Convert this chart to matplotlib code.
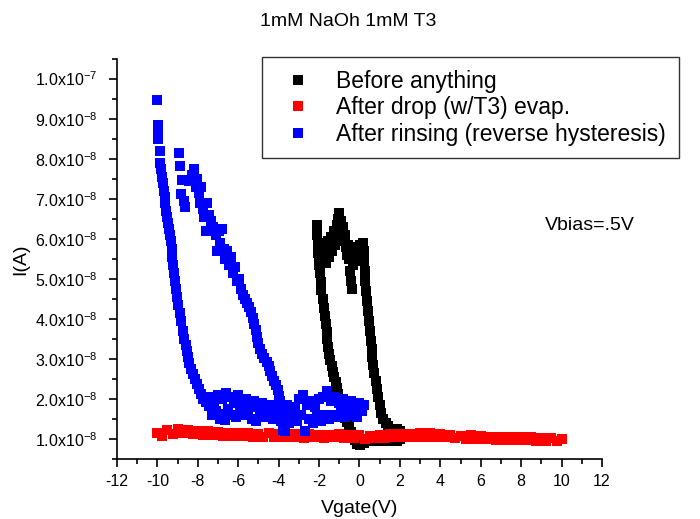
import numpy as np
import matplotlib
matplotlib.use("Agg")
import matplotlib.pyplot as plt
from matplotlib.ticker import MultipleLocator, FuncFormatter
from matplotlib.lines import Line2D

plt.rcParams['font.family'] = ['Liberation Sans', 'DejaVu Sans']
plt.rcParams['mathtext.fontset'] = 'custom'
plt.rcParams['mathtext.rm'] = 'Liberation Sans'
plt.rcParams['mathtext.it'] = 'Liberation Sans'
plt.rcParams['axes.unicode_minus'] = False

SCALE = 1e-8

title = "1mM NaOh 1mM T3"
series_labels = ["Before anything", "After drop (w/T3) evap.", "After rinsing (reverse hysteresis)"]
x_label = "Vgate(V)"
y_label = "I(A)"
note = "Vbias=.5V"

# ---- Black: Before anything  (Vgate, current in 1e-8 A) ----
black_up = [(-2.1, 6.35), (-2.08, 6.1), (-2.05, 5.85), (-2.02, 5.6), (-2.0, 5.35), (-1.95, 5.15),
            (-1.9, 5.45), (-1.85, 5.7), (-1.8, 5.5), (-1.75, 5.85), (-1.7, 5.6), (-1.65, 5.4),
            (-1.6, 5.75), (-1.55, 5.95), (-1.5, 5.55), (-1.45, 5.8), (-1.4, 6.05), (-1.35, 5.7),
            (-1.3, 5.95), (-1.25, 6.2), (-1.2, 5.85), (-1.15, 6.1), (-1.1, 6.35), (-1.05, 6.5),
            (-1.0, 6.65), (-0.95, 6.3), (-0.9, 6.45), (-0.85, 6.15), (-0.8, 6.3), (-0.75, 5.95),
            (-0.7, 6.1), (-0.65, 5.8), (-0.6, 5.6), (-0.55, 5.85), (-0.5, 5.5), (-0.45, 5.2),
            (-0.42, 4.95), (-0.38, 4.75), (-0.3, 5.35), (-0.25, 5.6), (-0.2, 5.45), (-0.15, 5.7),
            (-0.1, 5.55), (-0.05, 5.8), (0.0, 5.6), (0.05, 5.85), (0.1, 5.65), (0.15, 5.9),
            (0.2, 5.7), (0.22, 5.45), (0.25, 5.2), (0.28, 4.95), (0.32, 4.7), (0.36, 4.45),
            (0.42, 4.2), (0.48, 3.95), (0.52, 3.7), (0.55, 3.45), (0.6, 3.25), (0.64, 3.05),
            (0.68, 2.85), (0.73, 2.65), (0.8, 2.45), (0.86, 2.25), (0.93, 2.05), (1.0, 1.85),
            (1.08, 1.65), (1.18, 1.5), (1.3, 1.4), (1.42, 1.32), (1.55, 1.25), (1.7, 1.22),
            (1.85, 1.25), (2.0, 1.2)]
black_down = [(2.0, 1.0), (1.85, 0.95), (1.7, 1.0), (1.55, 0.95), (1.4, 1.0), (1.25, 0.95),
              (1.1, 1.0), (0.95, 0.95), (0.8, 1.0), (0.65, 0.95), (0.5, 1.0), (0.35, 0.95),
              (0.2, 0.9), (0.05, 0.85), (-0.1, 0.88), (-0.2, 0.98), (-0.3, 1.08), (-0.4, 1.18),
              (-0.5, 1.3), (-0.6, 1.42), (-0.7, 1.52), (-0.8, 1.65), (-0.9, 1.82), (-0.98, 1.98),
              (-1.05, 2.12), (-1.12, 2.28), (-1.18, 2.42), (-1.25, 2.55), (-1.32, 2.68),
              (-1.38, 2.82), (-1.44, 2.98), (-1.5, 3.12), (-1.56, 3.3), (-1.6, 3.5), (-1.63, 3.68),
              (-1.68, 3.88), (-1.73, 4.08), (-1.78, 4.28), (-1.83, 4.5), (-1.88, 4.72),
              (-1.92, 4.92), (-1.96, 5.15), (-2.0, 5.4), (-2.04, 5.65), (-2.07, 5.9), (-2.1, 6.15)]

# ---- Red: After drop (w/T3) evap. ----
red_fwd_v = [-10.0, -9.5, -9.0, -8.5, -8.0, -7.5, -7.0, -6.5, -6.0, -5.5, -5.0, -4.5, -4.0, -3.5,
             -3.0, -2.5, -2.0, -1.5, -1.0, -0.5, 0.0, 0.5, 1.0, 1.5, 2.0, 2.5, 3.0, 3.5, 4.0, 4.5,
             5.0, 5.5, 6.0, 6.5, 7.0, 7.5, 8.0, 8.5, 9.0, 9.5, 10.0]
red_fwd_i = [1.14, 1.22, 1.26, 1.22, 1.2, 1.21, 1.17, 1.16, 1.15, 1.15, 1.13, 1.14, 1.12, 1.13,
             1.12, 1.12, 1.1, 1.11, 1.12, 1.1, 1.1, 1.08, 1.1, 1.12, 1.13, 1.12, 1.15, 1.14, 1.12,
             1.1, 1.08, 1.09, 1.08, 1.06, 1.05, 1.06, 1.05, 1.04, 1.03, 1.02, 1.0]
red_rev_v = [9.75, 9.25, 8.75, 8.25, 7.75, 7.25, 6.75, 6.25, 5.75, 5.25, 4.75, 4.25, 3.75, 3.25,
             2.75, 2.25, 1.75, 1.25, 0.75, 0.25, -0.25, -0.75, -1.25, -1.75, -2.25, -2.75, -3.25,
             -3.75, -4.25, -4.75, -5.25, -5.75, -6.25, -6.75, -7.25, -7.75, -8.25, -8.75, -9.25,
             -9.75]
red_rev_i = [0.95, 0.96, 0.96, 0.97, 0.97, 0.98, 0.98, 0.99, 1.01, 1.01, 1.02, 1.04, 1.05, 1.06,
             1.04, 1.05, 1.04, 1.02, 1.03, 1.01, 1.02, 1.03, 1.04, 1.03, 1.04, 1.03, 1.05,
             1.04, 1.06, 1.05, 1.06, 1.07, 1.07, 1.08, 1.09, 1.1, 1.12, 1.14, 1.13, 1.08]

# ---- Blue: After rinsing (reverse hysteresis) ----
blue_steep = [(-10.01, 9.47), (-9.98, 8.85), (-9.97, 8.65), (-9.96, 8.5), (-9.88, 8.2), (-9.86, 7.9),
              (-9.84, 7.75), (-9.76, 7.55), (-9.72, 7.4), (-9.68, 7.2), (-9.64, 7.05), (-9.6, 6.9),
              (-9.56, 6.7), (-9.52, 6.55), (-9.47, 6.4), (-9.43, 6.25), (-9.38, 6.1), (-9.33, 5.95),
              (-9.3, 5.75), (-9.27, 5.55), (-9.24, 5.35), (-9.2, 5.15), (-9.15, 4.95), (-9.1, 4.75),
              (-9.04, 4.55), (-8.97, 4.35), (-8.9, 4.15), (-8.82, 3.95), (-8.72, 3.7), (-8.66, 3.5),
              (-8.6, 3.35), (-8.55, 3.2), (-8.48, 3.05), (-8.42, 2.9), (-8.35, 2.75), (-8.26, 2.62),
              (-8.15, 2.5), (-8.05, 2.38), (-7.95, 2.25), (-7.85, 2.12), (-7.72, 2.0), (-7.6, 1.92),
              (-7.45, 1.82), (-7.3, 1.75), (-7.15, 1.68), (-7.0, 1.62), (-6.8, 1.55), (-6.63, 1.47)]
blue_slant = [(-8.93, 8.13), (-8.88, 7.83), (-8.8, 7.46), (-8.83, 7.13), (-8.7, 6.95), (-8.63, 6.8),
              (-8.45, 7.45), (-8.3, 7.6), (-8.2, 7.75), (-8.1, 7.3), (-8.02, 7.5), (-7.95, 7.15),
              (-7.85, 7.3), (-7.9, 6.9), (-7.75, 6.75), (-7.7, 6.55), (-7.6, 6.2), (-7.55, 6.9),
              (-7.45, 6.6), (-7.35, 6.45), (-7.25, 6.3), (-7.1, 6.1), (-7.04, 5.7), (-6.95, 6.2),
              (-6.88, 5.9), (-6.8, 6.25), (-6.72, 5.75), (-6.63, 5.5), (-6.55, 5.7), (-6.45, 5.35),
              (-6.35, 5.55), (-6.25, 5.15), (-6.15, 5.3), (-6.05, 4.95), (-5.95, 5.0), (-5.85, 4.75),
              (-5.75, 4.6), (-5.66, 4.5), (-5.55, 4.4), (-5.45, 4.3), (-5.35, 4.18), (-5.28, 4.02),
              (-5.2, 3.88), (-5.12, 3.72), (-5.05, 3.55), (-5.0, 3.4), (-4.92, 3.25), (-4.84, 3.12),
              (-4.72, 3.02), (-4.6, 2.92), (-4.5, 2.82), (-4.42, 2.7), (-4.32, 2.58), (-4.22, 2.45),
              (-4.12, 2.35), (-4.05, 2.22), (-3.98, 2.08), (-3.92, 1.95), (-3.87, 1.82),
              (-3.83, 1.68), (-3.8, 1.52), (-3.78, 1.38), (-3.8, 1.22)]
blue_low_upper = [(-7.4, 2.05), (-7.2, 1.95), (-7.0, 2.1), (-6.8, 2.0), (-6.6, 2.15), (-6.4, 2.05),
                  (-6.2, 1.9), (-6.0, 2.1), (-5.8, 1.95), (-5.6, 2.0), (-5.4, 1.85), (-5.2, 1.95),
                  (-5.0, 1.8), (-4.8, 1.9), (-4.6, 1.75), (-4.4, 1.85), (-4.2, 1.8), (-4.0, 1.7),
                  (-3.8, 1.75), (-3.6, 1.85), (-3.4, 1.7), (-3.2, 1.8), (-3.0, 2.0), (-2.8, 2.1),
                  (-2.6, 1.85), (-2.4, 1.95), (-2.2, 1.8), (-2.0, 2.0), (-1.8, 2.05), (-1.6, 2.2),
                  (-1.4, 1.95), (-1.2, 2.05), (-1.0, 1.9), (-0.8, 2.0), (-0.6, 1.85), (-0.4, 1.95),
                  (-0.2, 1.8), (0.0, 1.9), (0.2, 1.85)]
blue_low_lower = [(-7.3, 1.6), (-7.1, 1.7), (-6.9, 1.5), (-6.7, 1.6), (-6.5, 1.75), (-6.3, 1.6),
                  (-6.1, 1.55), (-5.9, 1.7), (-5.7, 1.6), (-5.5, 1.65), (-5.3, 1.5), (-5.1, 1.45),
                  (-4.9, 1.6), (-4.7, 1.55), (-4.5, 1.65), (-4.3, 1.5), (-4.1, 1.6), (-3.9, 1.45),
                  (-3.7, 1.2), (-3.5, 1.4), (-3.3, 1.55), (-3.1, 1.45), (-2.9, 1.6), (-2.7, 1.2),
                  (-2.5, 1.5), (-2.3, 1.4), (-2.1, 1.55), (-1.9, 1.45), (-1.7, 1.6), (-1.5, 1.5),
                  (-1.3, 1.6), (-1.1, 1.55), (-0.9, 1.65), (-0.7, 1.55), (-0.5, 1.6), (-0.3, 1.65),
                  (-0.1, 1.55), (0.1, 1.7)]


def xy(*parts):
    pts = [p for part in parts for p in part]
    return np.array([p[0] for p in pts]), np.array([p[1] for p in pts]) * SCALE


fig = plt.figure(figsize=(7.0, 5.19), dpi=100)
ax = fig.add_axes([0.1671, 0.1156, 0.6929, 0.7715])

ms = 7
bx, by = xy(black_up, black_down)
ax.plot(bx, by, 's', color='black', ms=ms, mew=0, zorder=2)
ax.plot(np.array(red_fwd_v + red_rev_v), np.array(red_fwd_i + red_rev_i) * SCALE, 's',
        color='red', ms=ms, mew=0, zorder=3)
ux, uy = xy(blue_steep, blue_slant, blue_low_upper, blue_low_lower)
ax.plot(ux, uy, 's', color='blue', ms=ms, mew=0, zorder=4)

ax.set_xlim(-12, 12)
ax.set_ylim(0.5e-8, 10.5e-8)
ax.spines['top'].set_visible(False)
ax.spines['right'].set_visible(False)
ax.spines['left'].set_linewidth(1.2)
ax.spines['bottom'].set_linewidth(1.2)

ax.xaxis.set_major_locator(MultipleLocator(2))
ax.xaxis.set_minor_locator(MultipleLocator(1))
ax.yaxis.set_major_locator(MultipleLocator(1e-8))
ax.yaxis.set_minor_locator(MultipleLocator(0.5e-8))
ax.tick_params(which='major', direction='out', length=6, width=1.2, labelsize=11.5)
ax.tick_params(which='minor', direction='out', length=3.5, width=1.2)
ax.tick_params(axis='y', which='major', pad=8)
ax.tick_params(axis='x', which='major', pad=5)
ax.xaxis.set_major_formatter(FuncFormatter(lambda v, p: f"{v:.0f}"))


def yfmt(v, p):
    if v <= 0:
        return "0"
    e = int(np.floor(np.log10(v) + 1e-9))
    m = v / 10 ** e
    return f"{m:.1f}x10$^{{{e}}}$"


ax.yaxis.set_major_formatter(FuncFormatter(yfmt))

ax.set_xlabel(x_label, fontsize=14, labelpad=8)
ax.set_ylabel(y_label, fontsize=14, labelpad=4)
fig.text(0.498, 0.958, title, fontsize=14, ha='center', va='center')
ax.text(11.4, 6.34e-8, note, fontsize=14, ha='center', va='center')

handles = [Line2D([], [], marker='s', ls='none', color=c, ms=7.5, mew=0) for c in ['black', 'red', 'blue']]
leg = ax.legend(handles, series_labels, loc='upper left', bbox_to_anchor=(0.299, 1.003),
                fontsize=16.5, frameon=True, fancybox=False, edgecolor='black',
                handletextpad=0.7, labelspacing=0.15, borderpad=0.55, handlelength=2.0,
                borderaxespad=0)
leg.get_frame().set_linewidth(1.0)
leg.set_zorder(10)

fig.savefig("out.png", dpi=100)
